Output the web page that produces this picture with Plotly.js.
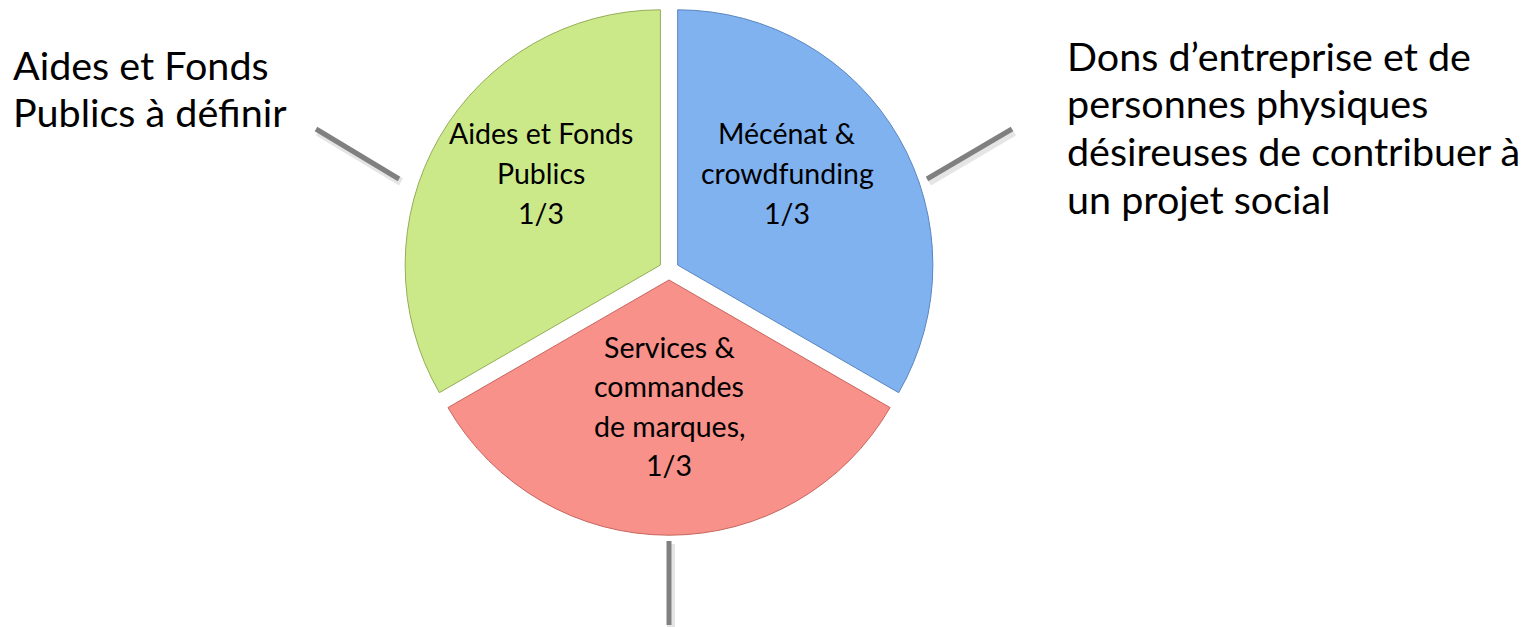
<!DOCTYPE html>
<html>
<head>
<meta charset="utf-8">
<script src="https://cdn.plot.ly/plotly-3.0.1.min.js"></script>
<style>html,body{margin:0;padding:0;background:#fff;}#chart{width:1536px;height:627px;}</style>
</head>
<body>
<div id="chart"></div>
<script>
// Data
const categories = ["Mécénat & crowdfunding", "Services & commandes de marques", "Aides et Fonds Publics"];
const values = [1, 1, 1];
const sliceLabels = [
  ["Mécénat &", "crowdfunding", "1/3"],
  ["Services &", "commandes", "de marques,", "1/3"],
  ["Aides et Fonds", "Publics", "1/3"]
];
const outsideLeft = ["Aides et Fonds", "Publics à définir"];
const outsideRight = ["Dons d’entreprise et de", "personnes physiques", "désireuses de contribuer à", "un projet social"];

const colors = ["#80b2f0", "#f7918a", "#cce98a"];
const lineColors = ["#5a86c0", "#c8655e", "#93ad57"];

const W = 1536, H = 627;
const px = x => x / W;
const py = y => 1 - y / H;
const FONT = "Lato, 'Open Sans', sans-serif";

// label placement (pixel centers) for inside labels
const insidePos = [
  {x: 787, y0: 133, dy: 40},
  {x: 669, y0: 347, dy: 39.3},
  {x: 541, y0: 133, dy: 40}
];

const annotations = [];
sliceLabels.forEach((lines, i) => {
  lines.forEach((t, j) => {
    annotations.push({
      xref: "paper", yref: "paper",
      x: px(insidePos[i].x), y: py(insidePos[i].y0 + j * insidePos[i].dy),
      text: t, showarrow: false, xanchor: "center", yanchor: "middle",
      font: {family: FONT, size: 28.5, color: "#000"}
    });
  });
});
outsideLeft.forEach((t, j) => {
  annotations.push({
    xref: "paper", yref: "paper", x: px(11), y: py(64 + j * 47.5),
    text: t, showarrow: false, xanchor: "left", yanchor: "middle", align: "left",
    font: {family: FONT, size: 39.5, color: "#000"}
  });
});
outsideRight.forEach((t, j) => {
  annotations.push({
    xref: "paper", yref: "paper", x: px(1065), y: py(55 + j * 47.7),
    text: t, showarrow: false, xanchor: "left", yanchor: "middle", align: "left",
    font: {family: FONT, size: 39.5, color: "#000"}
  });
});

const leader = (x0, y0, x1, y1) => ([
  {type: "line", xref: "paper", yref: "paper", x0: px(x0 + 2), y0: py(y0 + 3), x1: px(x1 + 2), y1: py(y1 + 3),
   line: {color: "rgba(0,0,0,0.10)", width: 8}},
  {type: "line", xref: "paper", yref: "paper", x0: px(x0), y0: py(y0), x1: px(x1), y1: py(y1),
   line: {color: "#808080", width: 5}}
]);
const shapes = [].concat(
  leader(316, 129, 399, 179),
  leader(927, 179, 1012, 129),
  leader(669, 541, 669, 625)
);

const trace = {
  type: "pie",
  labels: categories,
  values: values,
  sort: false,
  direction: "clockwise",
  rotation: 0,
  pull: [0.039, 0.039, 0.039],
  textinfo: "none",
  hoverinfo: "label+percent",
  marker: {colors: colors, line: {color: lineColors, width: 1}},
  domain: {x: [0.2629, 0.6082], y: [0.1464, 0.9923]},
  showlegend: false
};

const layout = {
  width: W, height: H,
  margin: {l: 0, r: 0, t: 0, b: 0},
  paper_bgcolor: "#ffffff",
  showlegend: false,
  annotations: annotations,
  shapes: shapes
};

Plotly.newPlot("chart", [trace], layout, {displayModeBar: false, staticPlot: true});
</script>
</body>
</html>
